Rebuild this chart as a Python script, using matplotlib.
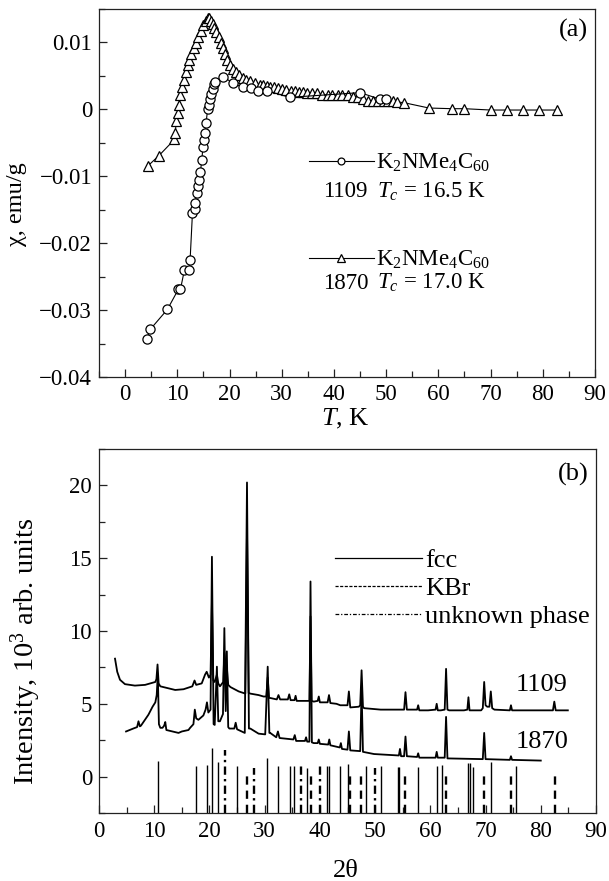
import matplotlib
matplotlib.use('Agg')
import matplotlib.pyplot as plt
from matplotlib.ticker import MultipleLocator, FixedLocator, FixedFormatter
from matplotlib.lines import Line2D

plt.rcParams['font.family'] = ['Liberation Serif', 'DejaVu Serif']
plt.rcParams['mathtext.fontset'] = 'custom'
plt.rcParams['mathtext.rm'] = 'Liberation Serif'
plt.rcParams['mathtext.it'] = 'Liberation Serif:italic'
plt.rcParams['axes.unicode_minus'] = True

# ---------------- panel (a): susceptibility ----------------
T_1109 = [4.15, 4.8, 8.1, 10.2, 10.6, 11.36, 12.26, 12.45, 12.9, 13.3, 13.4, 13.7,
          14.05, 14.2, 14.4, 14.7, 14.9, 15.1, 15.3, 15.5, 15.8, 16.1, 16.3, 16.5,
          16.8, 17.05, 17.2, 18.7, 20.75, 22.5, 24.1, 25.5, 27.1, 31.5, 45.0, 48.9,
          50.0]
chi_1109 = [-0.0343, -0.0329, -0.0299, -0.0269, -0.0269, -0.0240, -0.0240, -0.0225,
            -0.0155, -0.0149, -0.0140, -0.0125, -0.0115, -0.0106, -0.0094, -0.0076,
            -0.0056, -0.0046, -0.0036, -0.0021, 0.0000, 0.0006, 0.0015, 0.0023,
            0.0031, 0.0038, 0.0041, 0.0049, 0.0039, 0.0033, 0.0032, 0.0028, 0.0028,
            0.0018, 0.0025, 0.0015, 0.0015]

T_1870 = [4.3, 6.5, 9.45, 9.6, 9.8, 10.1, 10.35, 10.5, 10.9, 11.2, 11.6, 12.0, 12.3,
          12.65, 13.1, 13.5, 14.0, 14.55, 15.0, 15.4, 15.8, 16.1, 16.5, 16.8, 17.1,
          17.4, 17.9, 18.3, 18.7, 19.2, 19.6, 20.1, 20.6, 21.2, 21.8, 22.5, 23.2,
          24.0, 24.9, 25.9, 26.5, 27.2, 27.8, 28.5, 29.3, 30.1, 30.9, 31.7, 32.5,
          33.3, 34.1, 34.9, 35.8, 36.8, 37.8, 38.8, 39.7, 40.7, 41.6, 42.6, 43.6,
          44.6, 45.5, 46.5, 47.5, 48.5, 49.5, 50.4, 51.3, 52.1, 53.4, 58.2, 62.6,
          65.0, 70.0, 73.1, 76.2, 79.2, 82.7]
chi_1870 = [-0.0085, -0.0069, -0.0045, -0.0036, -0.0017, -0.0006, 0.0006, 0.0022,
            0.0034, 0.0044, 0.0056, 0.0066, 0.0074, 0.0083, 0.0091, 0.0099, 0.0108,
            0.0117, 0.0126, 0.0132, 0.0136, 0.0136, 0.0132, 0.0127, 0.0122, 0.0116,
            0.0108, 0.0099, 0.0091, 0.0083, 0.0074, 0.0067, 0.0061, 0.0056, 0.0051,
            0.0047, 0.0044, 0.0042, 0.0039, 0.0037, 0.0036, 0.0035, 0.0034, 0.0033,
            0.0032, 0.0031, 0.0029, 0.0028, 0.0027, 0.0026, 0.0026, 0.0025, 0.0024,
            0.0024, 0.0022, 0.0021, 0.0021, 0.0021, 0.0021, 0.0021, 0.0019, 0.0018,
            0.0015, 0.0013, 0.0013, 0.0013, 0.0013, 0.0013, 0.0012, 0.0011, 0.0010,
            0.0002, 0.0001, 0.0001, -0.0001, -0.0001, -0.0001, -0.0001, -0.0001]

yticks_a = [-0.04, -0.03, -0.02, -0.01, 0.0, 0.01]
ylabels_a = ['\u22120.04', '\u22120.03', '\u22120.02', '\u22120.01', '0', '0.01']
xticks_a = [0, 10, 20, 30, 40, 50, 60, 70, 80, 90]

# ---------------- panel (b): XRD ----------------
x_1109 = [2.9, 3.3, 3.8, 4.7, 6.5, 8.35, 10.2, 10.4, 10.6, 10.8, 11.1, 13.8, 15.3,
          16.9, 17.3, 17.6, 18.6, 19.2, 19.5, 19.9, 20.2, 20.45, 20.7, 20.95, 21.35,
          21.6, 21.9, 22.5, 22.7, 22.9, 23.15, 23.4, 23.8, 25.3, 26.5, 26.8, 27.1,
          27.4, 28.9, 29.8, 30.3, 30.55, 30.8, 31.0, 32.2, 32.5, 32.8, 34.2, 34.45,
          34.7, 35.4, 35.6, 35.8, 36.5, 38.1, 38.3, 38.5, 38.9, 39.6, 39.8, 40.0,
          41.4, 41.65, 41.9, 43.0, 43.7, 45.0, 45.25, 45.5, 47.05, 47.3, 47.55, 47.8,
          48.0, 51.0, 55.25, 55.5, 55.75, 56.1, 57.6, 57.8, 58.0, 59.6, 60.95, 61.15,
          61.35, 61.9, 62.6, 62.85, 63.1, 63.4, 66.1, 66.7, 66.9, 67.1, 67.5, 69.2,
          69.5, 69.75, 70.0, 70.3, 70.7, 70.95, 71.2, 71.6, 74.4, 74.6, 74.8, 75.2,
          79.9, 82.2, 82.45, 82.7, 83.0, 84.9]
I_1109 = [8.1, 7.2, 6.65, 6.35, 6.25, 6.3, 6.5, 6.7, 7.7, 6.4, 6.2, 5.95, 6.0,
          6.2, 6.6, 6.3, 6.4, 7.0, 7.2, 6.8, 7.0, 12.0, 6.6, 6.5, 7.0,
          6.4, 6.2, 6.5, 8.5, 7.0, 7.5, 6.3, 6.15, 5.85, 5.7, 17.0, 5.75,
          5.7, 5.6, 5.5, 5.5, 6.8, 5.4, 5.4, 5.3, 5.6, 5.3, 5.3, 5.65,
          5.25, 5.25, 5.55, 5.2, 5.2, 5.2, 11.0, 5.2, 5.15, 5.2, 5.5, 5.1,
          5.1, 5.6, 5.05, 5.0, 4.9, 4.9, 5.85, 4.75, 4.8, 4.9, 7.3, 4.8,
          4.7, 4.6, 4.6, 5.8, 4.6, 4.6, 4.6, 4.9, 4.55, 4.55, 4.6, 5.0,
          4.55, 4.55, 4.6, 7.4, 4.6, 4.55, 4.55, 4.6, 5.45, 4.55, 4.55, 4.55,
          4.7, 6.5, 4.9, 4.8, 4.8, 5.85, 4.7, 4.6, 4.55, 4.9, 4.55, 4.55,
          4.55, 4.55, 5.15, 4.55, 4.55, 4.55]

x_1870 = [4.9, 6.2, 6.9, 7.15, 7.4, 7.6, 8.95, 9.7, 10.2, 10.45, 10.65, 10.85, 11.1,
          11.5, 11.8, 12.0, 12.2, 14.4, 15.0, 16.2, 16.5, 17.1, 17.35, 17.6, 18.0,
          18.9, 19.3, 19.55, 19.8, 20.2, 20.45, 20.75, 20.95, 21.35, 21.6, 21.9,
          22.45, 22.7, 22.95, 23.15, 23.4, 23.6, 24.5, 24.75, 25.0, 26.4, 26.8,
          27.15, 27.4, 28.9, 30.1, 30.55, 30.85, 31.0, 32.1, 32.4, 32.7, 35.2,
          35.45, 35.7, 36.6, 37.3, 37.5, 37.7, 38.1, 38.3, 38.55, 38.9, 39.6, 39.8,
          40.0, 41.5, 41.7, 41.9, 43.6, 43.8, 44.0, 45.0, 45.25, 45.5, 47.3, 47.55,
          47.8, 49.8, 54.3, 54.5, 54.7, 55.25, 55.5, 55.75, 57.6, 57.8, 58.0, 60.95,
          61.15, 61.35, 62.6, 62.85, 63.1, 69.5, 69.75, 70.0, 74.4, 74.6, 74.8, 80.0]
I_1870 = [3.1, 3.3, 3.4, 3.8, 3.45, 3.5, 4.25, 4.8, 5.1, 5.6, 7.0, 3.6, 3.35,
          3.35, 3.5, 3.75, 3.2, 3.0, 3.1, 3.2, 3.35, 3.6, 4.6, 4.0, 3.9,
          4.2, 4.6, 5.1, 4.4, 4.6, 15.1, 3.6, 3.55, 7.55, 3.8, 3.8,
          4.3, 10.2, 4.5, 8.6, 3.4, 3.3, 3.3, 3.7, 3.25, 3.0, 20.2,
          3.3, 3.3, 2.95, 2.9, 7.55, 3.0, 3.0, 2.7, 3.1, 2.65, 2.55,
          2.85, 2.45, 2.45, 2.45, 2.7, 2.4, 2.4, 13.4, 2.35, 2.3, 2.3, 2.55,
          2.25, 2.2, 2.55, 2.15, 2.0, 2.3, 1.9, 1.85, 3.1, 1.8, 1.75, 6.0,
          1.7, 1.55, 1.45, 1.9, 1.4, 1.4, 2.75, 1.4, 1.35, 1.6, 1.3, 1.3,
          1.7, 1.3, 1.3, 4.1, 1.25, 1.2, 3.0, 1.2, 1.15, 1.4, 1.15, 1.1]

fcc_pos = [10.63, 17.5, 19.5, 20.45, 21.5, 24.9, 30.5, 32.5, 34.5, 35.4, 37.7, 41.3,
           41.7, 43.7, 45.1, 48.3, 51.0, 54.1, 54.4, 57.8, 61.2, 62.2, 66.9, 67.2,
           67.8, 70.95, 75.5]
fcc_top = [1.1, 0.75, 0.8, 1.95, 1.0, 0.7, 1.25, 0.75, 0.75, 0.7, 0.6, 0.7,
           0.75, 0.7, 0.85, 0.75, 0.71, 0.65, 0.65, 0.65, 0.75, 0.82, 0.94, 0.9,
           0.65, 1.0, 0.71]
kbr_pos = [26.8, 38.4, 45.4, 47.5, 55.5, 62.8, 69.7, 74.6, 82.6]
kbr_top = [0.25, 0.25, 0.15, 0.15, 0.15, 0.15, 0.15, 0.07, 0.07]
unk_pos = [22.8, 28.0, 36.6, 40.1, 49.9]
unk_top = [1.85, 0.6, 0.75, 0.7, 0.6]

yticks_b = [0, 5, 10, 15, 20]
xticks_b = [0, 10, 20, 30, 40, 50, 60, 70, 80, 90]

TXT_A = 16.5
TXT_B = 19
TCK = 16.5

W, H = 609, 881
fig = plt.figure(figsize=(W / 100, H / 100), dpi=100)
ax1 = fig.add_axes([99 / W, 1 - 377 / H, 496 / W, 368 / H])
ax2 = fig.add_axes([99 / W, 1 - 813 / H, 497 / W, 364 / H])

for ax in (ax1, ax2):
    for s in ax.spines.values():
        s.set_linewidth(0.9)
        s.set_color('#222222')
    ax.tick_params(which='both', direction='in', top=False, right=False,
                   labelsize=TCK, width=0.9, color='#222222')
    ax.tick_params(which='major', length=6)
    ax.tick_params(which='minor', length=4)

# ---- panel (a)
l2, = ax1.plot(T_1870, chi_1870, '-', color='k', lw=0.8, marker='^', ms=7.2,
               mfc='white', mec='k', mew=0.9, zorder=3)
l1, = ax1.plot(T_1109, chi_1109, '-', color='k', lw=0.8, marker='o', ms=6.6,
               mfc='white', mec='k', mew=0.9, zorder=4)
ax1.set_xlim(-5, 90)
ax1.set_ylim(-0.04, 0.015)
ax1.xaxis.set_major_locator(FixedLocator(xticks_a))
ax1.xaxis.set_minor_locator(MultipleLocator(5))
ax1.yaxis.set_major_locator(FixedLocator(yticks_a))
ax1.yaxis.set_major_formatter(FixedFormatter(ylabels_a))
ax1.yaxis.set_minor_locator(MultipleLocator(0.005))
ax1.tick_params(axis='x', pad=5)
ax1.tick_params(axis='y', pad=5)
ax1.set_xlabel('$T$, K', fontsize=TXT_B)
ax1.xaxis.set_label_coords(0.496, -0.08)
ax1.set_ylabel('\u03c7, emu/g', fontsize=17.5)
ax1.yaxis.set_label_coords(-0.145, 0.47)
ax1.text(0.986, 0.943, '(a)', transform=ax1.transAxes, fontsize=TXT_B,
         ha='right', va='center')

leg1 = ax1.legend([l1, l2], [r'K$_2$NMe$_4$C$_{60}$', r'K$_2$NMe$_4$C$_{60}$'],
                  loc='upper left', bbox_to_anchor=(0.423, 0.612), frameon=False,
                  handlelength=2.85, handletextpad=0.1, labelspacing=3.25,
                  markerscale=0.75, fontsize=TXT_A, borderpad=0, borderaxespad=0)
ax1.text(0.452, 0.503, '1109', transform=ax1.transAxes, fontsize=TXT_A,
         ha='left', va='center')
ax1.text(0.560, 0.503, r'$T_c$ = 16.5 K', transform=ax1.transAxes, fontsize=TXT_A,
         ha='left', va='center')
ax1.text(0.452, 0.255, '1870', transform=ax1.transAxes, fontsize=TXT_A,
         ha='left', va='center')
ax1.text(0.560, 0.255, r'$T_c$ = 17.0 K', transform=ax1.transAxes, fontsize=TXT_A,
         ha='left', va='center')

# ---- panel (b)
ax2.set_xlim(0, 90)
ax2.set_ylim(-2.5, 22.5)
ybot = ax2.get_ylim()[0]
ax2.plot(x_1109, I_1109, '-', color='k', lw=1.3)
ax2.plot(x_1870, I_1870, '-', color='k', lw=1.3)
ax2.vlines(fcc_pos, ybot, fcc_top, colors='k', lw=1.0)
ax2.vlines(kbr_pos, ybot, kbr_top, colors='k', lw=1.7, linestyles=[(0, (3.5, 2.5))])
ax2.vlines(unk_pos, ybot, unk_top, colors='k', lw=1.7,
           linestyles=[(0, (3.5, 1.8, 1.0, 1.8))])
ax2.xaxis.set_major_locator(FixedLocator(xticks_b))
ax2.xaxis.set_minor_locator(MultipleLocator(5))
ax2.yaxis.set_major_locator(FixedLocator(yticks_b))
ax2.yaxis.set_minor_locator(MultipleLocator(2.5))
ax2.tick_params(axis='x', pad=6)
ax2.tick_params(axis='y', pad=5)
ax2.set_xlabel('2\u03b8', fontsize=TXT_B)
ax2.xaxis.set_label_coords(0.497, -0.13)
ax2.set_ylabel(r'Intensity, 10$^3$ arb. units', fontsize=20.5)
ax2.yaxis.set_label_coords(-0.112, 0.445)
ax2.text(0.986, 0.931, '(b)', transform=ax2.transAxes, fontsize=TXT_B,
         ha='right', va='center')
ax2.text(75.5, 6.3, '1109', fontsize=TXT_B, ha='left', va='center')
ax2.text(75.5, 2.4, '1870', fontsize=TXT_B, ha='left', va='center')

hb = [Line2D([], [], color='k', lw=0.9, ls='-'),
      Line2D([], [], color='k', lw=0.9, ls=(0, (2.5, 1.2))),
      Line2D([], [], color='k', lw=0.9, ls=(0, (3, 1.5, 1, 1.5)))]
ax2.legend(hb, ['fcc', 'KBr', 'unknown phase'], loc='upper left',
           bbox_to_anchor=((335 - 99) / 497, (813 - 549) / 364), frameon=False,
           handlelength=3.3, handletextpad=0.1, labelspacing=0.17,
           fontsize=TXT_B, borderpad=0, borderaxespad=0)

fig.savefig('out.png', dpi=100)
